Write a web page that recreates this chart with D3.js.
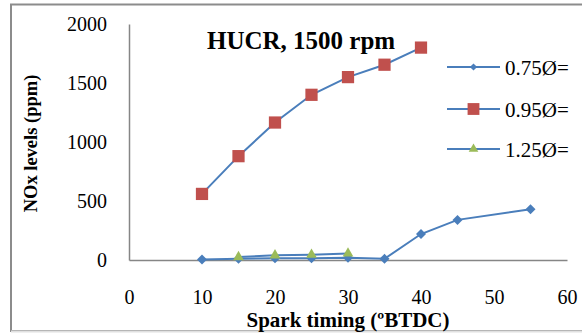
<!DOCTYPE html>
<html>
<head>
<meta charset="utf-8">
<script src="https://cdn.jsdelivr.net/npm/d3@7"></script>
<style>
  body { margin: 0; background: #fff; }
  text { font-family: "Liberation Serif", "Times New Roman", serif; fill: #000; }
</style>
</head>
<body>
<div id="chart"></div>
<script>
var xTicks = [0, 10, 20, 30, 40, 50, 60];
var yTicks = [0, 500, 1000, 1500, 2000];

var timing075 = [10, 15, 20, 25, 30, 35, 40, 45, 55];
var nox075 = [5, 10, 15, 15, 20, 10, 220, 340, 430];
var timing095 = [10, 15, 20, 25, 30, 35, 40];
var nox095 = [560, 880, 1165, 1400, 1550, 1655, 1800];
var timing125 = [15, 20, 25, 30];
var nox125 = [25, 40, 45, 55];

var seriesNames = ["0.75\u00D8=", "0.95\u00D8=", "1.25\u00D8="];

(function() {
    var width = 582, height = 333;
    var serif = "'Liberation Serif', 'Times New Roman', serif";
    var svg = d3.select("#chart").append("svg")
        .attr("width", width)
        .attr("height", height);

    // outer frame
    svg.append("rect")
        .attr("x", 11).attr("y", 4.5)
        .attr("width", 600).attr("height", 326.5)
        .attr("fill", "none")
        .attr("stroke", "#8c8c8c")
        .attr("stroke-width", 2);
    svg.append("line")
        .attr("x1", 11).attr("x2", 582)
        .attr("y1", 331.5).attr("y2", 331.5)
        .attr("stroke", "#e0e0e0").attr("stroke-width", 2);

    var x = d3.scaleLinear().domain([0, 60]).range([129, 567]);
    var y = d3.scaleLinear().domain([0, 2000]).range([260, 24]);

    var axisColor = "#868686";

    var xAxis = svg.append("g")
        .attr("transform", "translate(0," + y(0) + ")")
        .call(d3.axisBottom(x).tickValues(xTicks).tickSize(0).tickPadding(30));
    xAxis.select(".domain").attr("stroke", axisColor).attr("stroke-width", 1.5);
    xAxis.selectAll("text").style("font-size", "20px").style("font-family", serif);

    var yAxis = svg.append("g")
        .attr("transform", "translate(" + x(0) + ",0)")
        .call(d3.axisLeft(y).tickValues(yTicks).tickFormat(d3.format("d")).tickSize(0).tickPadding(22));
    yAxis.select(".domain").attr("stroke", axisColor).attr("stroke-width", 1.5);
    yAxis.selectAll("text").style("font-size", "20px").style("font-family", serif);

    // axis titles
    svg.append("text")
        .attr("x", 348).attr("y", 327)
        .attr("text-anchor", "middle")
        .style("font-size", "21px").style("font-weight", "bold")
        .text("Spark timing (\u00BABTDC)");

    svg.append("text")
        .attr("transform", "translate(37,143.5) rotate(-90)")
        .attr("text-anchor", "middle")
        .style("font-size", "18.5px").style("font-weight", "bold")
        .text("NOx levels (ppm)");

    svg.append("text")
        .attr("x", 207).attr("y", 49)
        .style("font-size", "25px").style("font-weight", "bold")
        .text("HUCR, 1500 rpm");

    var lineColor = "#4a7ebb";
    var line = d3.line()
        .x(function(d) { return x(d[0]); })
        .y(function(d) { return y(d[1]); });

    var series = [
        { xs: timing075, ys: nox075, symbol: d3.symbolSquare, size: 50, rot: 45, color: "#4a7ebb" },
        { xs: timing095, ys: nox095, symbol: d3.symbolSquare, size: 150, rot: 0, color: "#c0504d" },
        { xs: timing125, ys: nox125, symbol: d3.symbolTriangle, size: 50, rot: 0, color: "#9bbb59" }
    ];

    series.forEach(function(s) {
        var pts = s.xs.map(function(v, i) { return [v, s.ys[i]]; });
        svg.append("path")
            .datum(pts)
            .attr("fill", "none")
            .attr("stroke", lineColor)
            .attr("stroke-width", 2)
            .attr("d", line);
        svg.selectAll(null)
            .data(pts)
            .enter().append("path")
            .attr("d", d3.symbol().type(s.symbol).size(s.size))
            .attr("transform", function(d) {
                return "translate(" + x(d[0]) + "," + y(d[1]) + ") rotate(" + s.rot + ")";
            })
            .attr("fill", s.color);
    });

    // legend
    var legend = svg.append("g");
    var legendY = [67, 109, 149];
    var legendSizes = [26, 140, 40];
    series.forEach(function(s, i) {
        var g = legend.append("g").attr("transform", "translate(447," + legendY[i] + ")");
        g.append("line")
            .attr("x1", 0).attr("x2", 53)
            .attr("stroke", lineColor).attr("stroke-width", 2);
        g.append("path")
            .attr("d", d3.symbol().type(s.symbol).size(legendSizes[i]))
            .attr("transform", "translate(26.5,0) rotate(" + s.rot + ")")
            .attr("fill", s.color);
        g.append("text")
            .attr("x", 58).attr("y", 7.5)
            .style("font-size", "21px")
            .text(seriesNames[i]);
    });
})();
</script>
</body>
</html>
